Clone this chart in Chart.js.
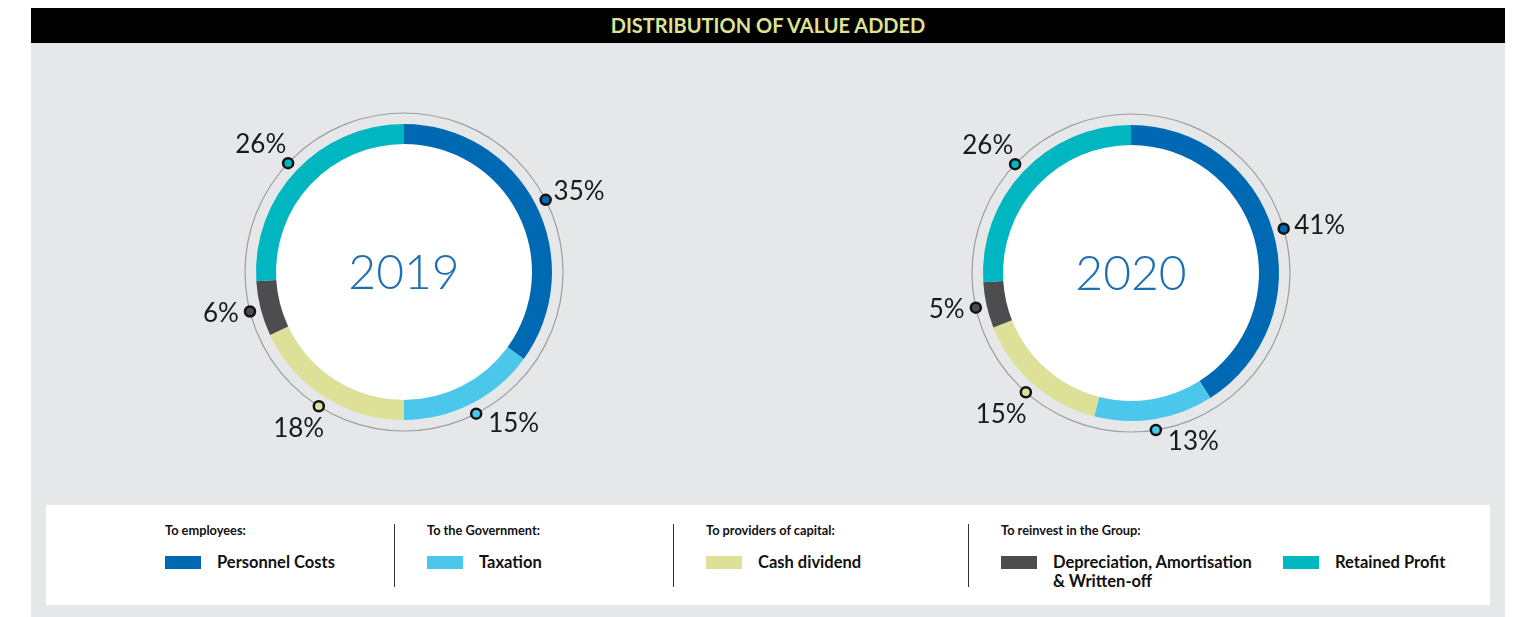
<!DOCTYPE html>
<html lang="en">
  <head>
    <meta charset="UTF-8" />
    <script src="https://cdn.jsdelivr.net/npm/chart.js"></script>
    <title>Distribution of Value Added</title>
    <style>
      * {
        padding: 0;
        margin: 0;
        box-sizing: border-box;
      }
      body {
        background: #fff;
        width: 1529px;
        height: 617px;
        overflow: hidden;
        font-family: Lato, 'Open Sans', sans-serif;
      }
      .frame {
        position: absolute;
        left: 31px;
        top: 8px;
        width: 1474px;
        height: 609px;
        background: #e6e7e9;
      }
      .head {
        height: 35px;
        background: #000;
        color: #dfe193;
        font-weight: 700;
        font-size: 20px;
        text-align: center;
        line-height: 35px;
      }
      .donut {
        position: absolute;
        width: 500px;
        height: 440px;
      }
      .legend {
        position: absolute;
        left: 15px;
        top: 497px;
        width: 1444px;
        height: 100px;
        background: #fff;
        color: #111;
      }
      .legend .group {
        position: absolute;
        top: 17px;
        font-size: 12.8px;
        font-weight: 700;
      }
      .legend .item {
        position: absolute;
        top: 48px;
        font-size: 16.5px;
        font-weight: 700;
        line-height: 19px;
      }
      .legend .swatch {
        position: absolute;
        left: 0;
        top: 3px;
        width: 36px;
        height: 13px;
      }
      .legend .item span {
        display: block;
        margin-left: 52px;
      }
      .legend .divider {
        position: absolute;
        top: 19px;
        width: 1px;
        height: 63px;
        background: #333;
      }
    </style>
  </head>
  <body>
    <div class="frame">
      <div class="head">DISTRIBUTION OF VALUE ADDED</div>
      <div class="donut" style="left: 123px; top: 44px"><canvas id="chart2019"></canvas></div>
      <div class="donut" style="left: 850px; top: 45px"><canvas id="chart2020"></canvas></div>
      <div class="legend" id="legend"></div>
    </div>
    <script>
      // data
      const categories = ['Personnel Costs', 'Taxation', 'Cash dividend', 'Depreciation, Amortisation & Written-off', 'Retained Profit'];
      const groups = ['To employees:', 'To the Government:', 'To providers of capital:', 'To reinvest in the Group:'];
      const groupOf = [0, 1, 2, 3, 3];
      const years = ['2019', '2020'];
      const values2019 = [35, 15, 18, 6, 26];
      const values2020 = [41, 13, 15, 5, 26];

      const colors = ['#0069b4', '#4bc7ec', '#dde197', '#4d4d4f', '#00b6c1'];

      // legend (html)
      const groupX = [119, 381, 660, 955];
      const legend = document.getElementById('legend');
      groups.forEach((g, i) => {
        legend.insertAdjacentHTML('beforeend', `<div class="group" style="left:${groupX[i]}px">${g}</div>`);
        if (i > 0) legend.insertAdjacentHTML('beforeend', `<div class="divider" style="left:${groupX[i] - 33}px"></div>`);
      });
      let seen = {};
      categories.forEach((c, i) => {
        const g = groupOf[i];
        const x = groupX[g] + (seen[g] ? 282 : 0);
        seen[g] = true;
        const txt = c.replace(' & ', '<br>& ');
        legend.insertAdjacentHTML('beforeend',
          `<div class="item" style="left:${x}px"><div class="swatch" style="background:${colors[i]}"></div><span>${txt}</span></div>`);
      });

      // rings, dots, labels and year drawn around the doughnut
      const ringDecor = {
        id: 'ringDecor',
        beforeDatasetsDraw(chart) {
          const ctx = chart.ctx;
          const a = chart.getDatasetMeta(0).data[0];
          ctx.save();
          ctx.fillStyle = '#fff';
          ctx.beginPath();
          ctx.arc(a.x, a.y, a.innerRadius, 0, Math.PI * 2);
          ctx.fill();
          ctx.strokeStyle = '#9d9d9f';
          ctx.lineWidth = 1.2;
          ctx.beginPath();
          ctx.arc(a.x, a.y, a.outerRadius + 11, 0, Math.PI * 2);
          ctx.stroke();
          ctx.restore();
        },
        afterDatasetsDraw(chart, args, opts) {
          const ctx = chart.ctx;
          const arcs = chart.getDatasetMeta(0).data;
          const vals = chart.data.datasets[0].data;
          ctx.save();
          ctx.font = '26px Lato, sans-serif';
          ctx.textBaseline = 'middle';
          ctx.textAlign = 'center';
          arcs.forEach((a, i) => {
            const mid = (a.startAngle + a.endAngle) / 2;
            const c = Math.cos(mid), s = Math.sin(mid);
            const r = a.outerRadius + 11;
            const dx = a.x + c * r, dy = a.y + s * r;
            ctx.beginPath();
            ctx.arc(dx, dy, 5, 0, Math.PI * 2);
            ctx.fillStyle = colors[i];
            ctx.fill();
            ctx.lineWidth = 2.5;
            ctx.strokeStyle = '#111';
            ctx.stroke();

            // label beside the dot, lifted/lowered only near top and bottom
            const txt = vals[i] + '%';
            const w = ctx.measureText(txt).width, h = 23;
            let lx, ly;
            if (Math.abs(c) < 0.5) {
              lx = dx + Math.sign(c) * (w / 2 + 12);
              ly = dy + s * h / 2;
            } else {
              lx = dx + c * (w / 2 + 12);
              ly = dy + Math.sign(s) * Math.min(s * s * 40, 22);
            }
            ctx.fillStyle = '#1a1a1a';
            ctx.fillText(txt, lx, ly);
          });
          const a0 = arcs[0];
          ctx.font = '300 48px Lato, sans-serif';
          ctx.fillStyle = '#1c6fb3';
          ctx.fillText(opts.year, a0.x, a0.y + 2);
          ctx.restore();
        },
      };

      function makeDonut(id, values, year) {
        return new Chart(document.getElementById(id), {
          type: 'doughnut',
          data: {
            labels: categories,
            datasets: [{ data: values, backgroundColor: colors, borderWidth: 0 }],
          },
          options: {
            responsive: true,
            maintainAspectRatio: false,
            animation: false,
            radius: 148,
            cutout: '86.5%',
            events: [],
            plugins: {
              legend: { display: false },
              tooltip: { enabled: false },
              ringDecor: { year: year },
            },
          },
          plugins: [ringDecor],
        });
      }

      makeDonut('chart2019', values2019, years[0]);
      makeDonut('chart2020', values2020, years[1]);
    </script>
  </body>
</html>
